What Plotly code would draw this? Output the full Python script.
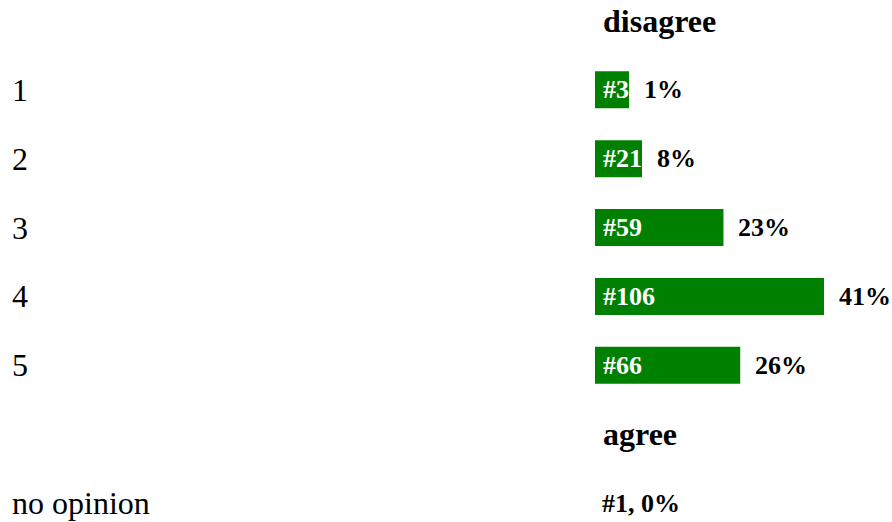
import plotly.graph_objects as go

# ---- data ----
rows = ["disagree", "1", "2", "3", "4", "5", "agree", "no opinion"]
scale_labels = ["1", "2", "3", "4", "5"]
counts = [3, 21, 59, 106, 66]
percents = [1, 8, 23, 41, 26]
no_opinion_count = 1
no_opinion_pct = 0
header_top = "disagree"
header_bottom = "agree"
no_opinion_label = "no opinion"

GREEN = "#008000"
FONT = "Liberation Serif, Times New Roman, serif"
W, H = 892, 522
X0_PX = 595.0          # left edge of bars in pixels
PX_PER_UNIT = 229.0 / 41.0   # bar length is proportional to the percentage
LABEL_SIZE = 26

bar_text = ["#%d" % c for c in counts]
# table cells grow to fit their label: minimum bar length from the label width
min_len = [(0.5 * LABEL_SIZE * len(t) + 8) / PX_PER_UNIT for t in bar_text]
bar_len = [max(p, m) for p, m in zip(percents, min_len)]

x_max = (W - X0_PX) / PX_PER_UNIT

fig = go.Figure()
fig.add_trace(go.Bar(
    x=bar_len, y=scale_labels, orientation="h",
    marker=dict(color=GREEN, line=dict(width=0)),
    width=0.537, hoverinfo="skip", showlegend=False,
))

ann = []
# labels inside bars
for lab, t in zip(scale_labels, bar_text):
    ann.append(dict(x=0, y=lab, xref="x", yref="y", text="<b>%s</b>" % t,
                    xanchor="left", yanchor="middle", xshift=6, showarrow=False,
                    font=dict(family=FONT, size=LABEL_SIZE, color="white")))
# percentages after bars
for lab, L, p in zip(scale_labels, bar_len, percents):
    ann.append(dict(x=L, y=lab, xref="x", yref="y", text="<b>%d%%</b>" % p,
                    xanchor="left", yanchor="middle", xshift=13, showarrow=False,
                    font=dict(family=FONT, size=LABEL_SIZE, color="black")))
# row labels on the left
for lab in scale_labels + [no_opinion_label]:
    ann.append(dict(x=10 / W, y=lab, xref="paper", yref="y", text=lab,
                    xanchor="left", yanchor="middle", showarrow=False,
                    font=dict(family=FONT, size=32, color="black")))
# headers
for lab in [header_top, header_bottom]:
    ann.append(dict(x=0, y=lab, xref="x", yref="y", text="<b>%s</b>" % lab,
                    xanchor="left", yanchor="middle", xshift=6, showarrow=False,
                    font=dict(family=FONT, size=32, color="black")))
# no opinion value
ann.append(dict(x=0, y=no_opinion_label, xref="x", yref="y",
                text="<b>#%d, %d%%</b>" % (no_opinion_count, no_opinion_pct),
                xanchor="left", yanchor="middle", xshift=5, showarrow=False,
                font=dict(family=FONT, size=LABEL_SIZE, color="black")))

step = 482.0 / 7.0
y_top = -21.0 / step
y_bot = 7 + (H - 503.0) / step

fig.update_layout(
    width=W, height=H,
    margin=dict(l=0, r=0, t=0, b=0),
    paper_bgcolor="white", plot_bgcolor="white",
    xaxis=dict(domain=[X0_PX / W, 1], range=[0, x_max], visible=False, fixedrange=True),
    yaxis=dict(type="category", categoryorder="array", categoryarray=rows,
               range=[y_bot, y_top], visible=False, fixedrange=True),
    annotations=ann,
    font=dict(family=FONT),
)
fig.write_html(
    "out.html",
    config={"displayModeBar": False},
    post_script="document.body.style.margin='0';document.body.style.overflow='hidden';",
)
